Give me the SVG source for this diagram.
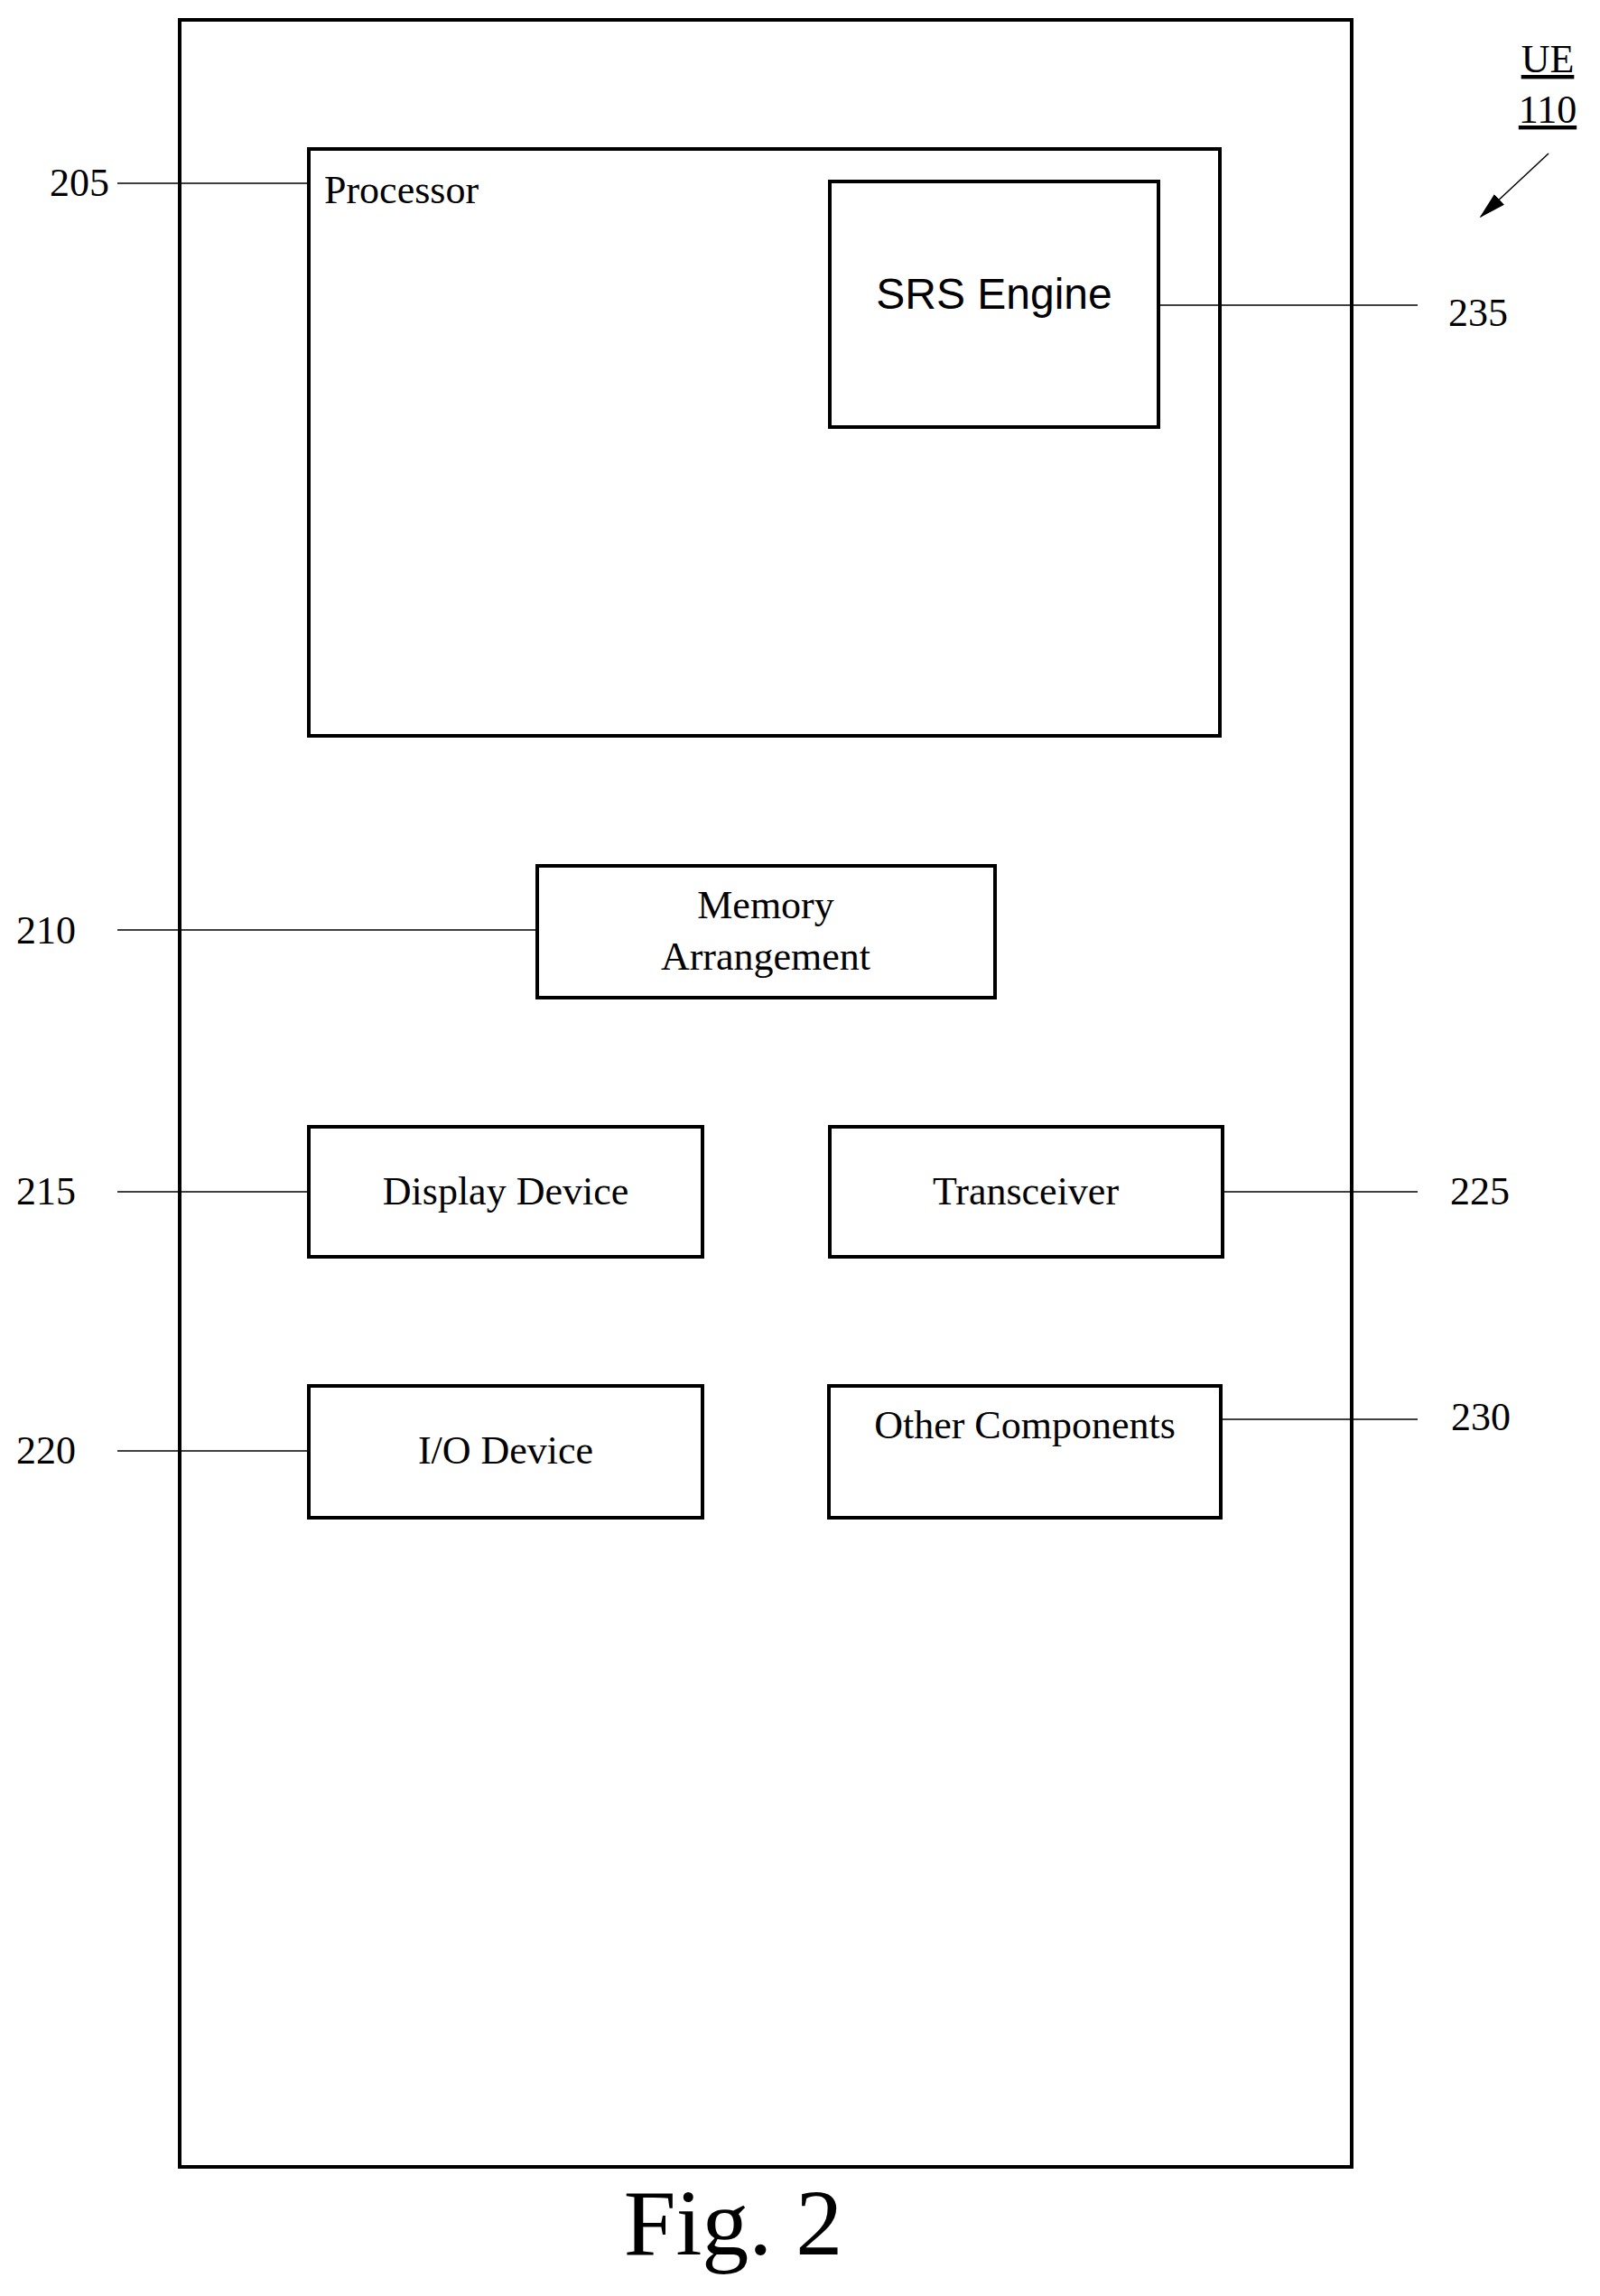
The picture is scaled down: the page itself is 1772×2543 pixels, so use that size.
<svg xmlns="http://www.w3.org/2000/svg" width="1772" height="2543" viewBox="0 0 1772 2543">
<style>
.b{fill:none;stroke:#000;stroke-width:4}
.l{stroke:#000;stroke-width:1.5;fill:none}
text{font-family:"Liberation Serif",serif;font-size:44px;fill:#000}
.c{text-anchor:middle}
</style>
<defs><marker id="a" markerWidth="30" markerHeight="20" refX="28" refY="8" orient="auto" markerUnits="userSpaceOnUse" viewBox="0 0 30 16"><path d="M0,0 L30,8 L0,16z"/></marker></defs>
<rect width="1772" height="2543" fill="#fff"/>
<g id="ue"><rect class="b" x="199" y="22" width="1298" height="2378"/></g>
<g id="processor"><rect class="b" x="342" y="165" width="1009" height="650"/><text x="359" y="225">Processor</text></g>
<g id="srs"><rect class="b" x="919" y="201" width="364" height="272"/><text class="c" x="1101" y="342" style="font-family:'Liberation Sans',sans-serif;font-size:48px">SRS Engine</text></g>
<g id="memory"><rect class="b" x="595" y="959" width="507" height="146"/><text class="c" x="848" y="1017">Memory</text><text class="c" x="848" y="1074">Arrangement</text></g>
<g id="display"><rect class="b" x="342" y="1248" width="436" height="144"/><text class="c" x="560" y="1334">Display Device</text></g>
<g id="transceiver"><rect class="b" x="919" y="1248" width="435" height="144"/><text class="c" x="1136" y="1334">Transceiver</text></g>
<g id="io"><rect class="b" x="342" y="1535" width="436" height="146"/><text class="c" x="560" y="1621">I/O Device</text></g>
<g id="other"><rect class="b" x="918" y="1535" width="434" height="146"/><text class="c" x="1135" y="1593">Other Components</text></g>
<g id="connectors">
<line class="l" x1="130" y1="203" x2="342" y2="203"/>
<line class="l" x1="1283" y1="338" x2="1570" y2="338"/>
<line class="l" x1="130" y1="1030" x2="595" y2="1030"/>
<line class="l" x1="130" y1="1320" x2="342" y2="1320"/>
<line class="l" x1="1354" y1="1320" x2="1570" y2="1320"/>
<line class="l" x1="130" y1="1607" x2="342" y2="1607"/>
<line class="l" x1="1352" y1="1572" x2="1570" y2="1572"/>
<line class="l" x1="1715" y1="170" x2="1640" y2="240" marker-end="url(#a)" stroke-width="2"/>
</g>
<g id="labels">
<text x="55" y="217">205</text>
<text x="1604" y="361">235</text>
<text x="18" y="1045">210</text>
<text x="18" y="1334">215</text>
<text x="1606" y="1334">225</text>
<text x="18" y="1621">220</text>
<text x="1607" y="1584">230</text>
<text class="c" x="1714" y="80" text-decoration="underline">UE</text>
<text class="c" x="1714" y="136" text-decoration="underline">110</text>
<text class="c" x="812" y="2497" style="font-size:104px">Fig. 2</text>
</g>
</svg>
